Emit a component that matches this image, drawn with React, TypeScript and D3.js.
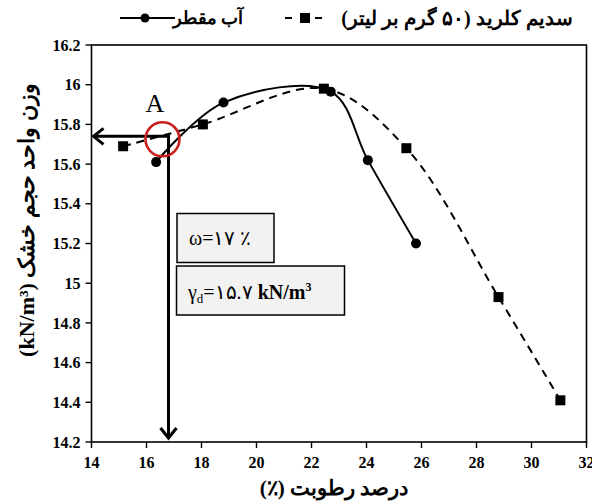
import React from "react";
import * as d3 from "d3";

const waterX = [16.35, 18.8, 22.7, 24.05, 25.8];
const waterY = [15.61, 15.91, 15.965, 15.62, 15.2];
const saltX = [15.15, 18.05, 22.45, 25.45, 28.8, 31.05];
const saltY = [15.69, 15.8, 15.98, 15.68, 14.93, 14.41];
const xTicks = [14, 16, 18, 20, 22, 24, 26, 28, 30, 32];
const yTicks = [14.2, 14.4, 14.6, 14.8, 15, 15.2, 15.4, 15.6, 15.8, 16, 16.2];
const optimum = { x: 16.8, y: 15.74 };
const waterLabel = "آب مقطر";
const saltLabel = "سدیم کلرید (۵۰ گرم بر لیتر)";
const xTitle = "درصد رطوبت (٪)";
const yTitle = "وزن واحد حجم خشک (kN/m³)";

const W = 592, H = 504;
const M = { left: 91.5, right: 586.5, top: 45, bottom: 442 };
const FONT = "Liberation Serif, serif";

export default function App() {
  const x = d3.scaleLinear().domain([14, 32]).range([M.left, M.right]);
  const y = d3.scaleLinear().domain([14.2, 16.2]).range([M.bottom, M.top]);
  const water = waterX.map((v, i) => [v, waterY[i]] as [number, number]);
  const salt = saltX.map((v, i) => [v, saltY[i]] as [number, number]);
  const line = d3
    .line<[number, number]>()
    .x((d) => x(d[0]))
    .y((d) => y(d[1]))
    .curve(d3.curveCatmullRom.alpha(0.5));

  const ox = x(optimum.x);
  const oy = y(optimum.y);

  return (
    <svg
      width={W}
      height={H}
      style={{ position: "absolute", left: 0, top: 0, background: "#fff", fontFamily: FONT }}
    >
      <rect
        x={M.left}
        y={M.top}
        width={M.right - M.left}
        height={M.bottom - M.top}
        fill="none"
        stroke="#000"
        strokeWidth={1.6}
      />
      {yTicks.map((t) => (
        <g key={"y" + t}>
          <line x1={M.left - 6} x2={M.left} y1={y(t)} y2={y(t)} stroke="#000" strokeWidth={1.4} />
          <text x={M.left - 11} y={y(t)} dy="0.35em" textAnchor="end" fontSize={16} fontWeight="bold">
            {d3.format("")(t)}
          </text>
        </g>
      ))}
      {xTicks.map((t) => (
        <g key={"x" + t}>
          <line x1={x(t)} x2={x(t)} y1={M.bottom} y2={M.bottom + 6} stroke="#000" strokeWidth={1.4} />
          <text x={x(t)} y={M.bottom + 26} textAnchor="middle" fontSize={16} fontWeight="bold">
            {t}
          </text>
        </g>
      ))}

      <path d={line(salt) || ""} fill="none" stroke="#000" strokeWidth={2} strokeDasharray="8,6" />
      <path d={line(water) || ""} fill="none" stroke="#000" strokeWidth={2} />
      {salt.map((d, i) => (
        <rect key={"s" + i} x={x(d[0]) - 5} y={y(d[1]) - 5} width={10} height={10} fill="#000" />
      ))}
      {water.map((d, i) => (
        <circle key={"w" + i} cx={x(d[0])} cy={y(d[1])} r={5} fill="#000" />
      ))}

      <line x1={ox} y1={oy} x2={M.left + 2} y2={oy} stroke="#000" strokeWidth={3} />
      <polyline
        points={`${M.left + 12},${oy - 8} ${M.left + 2},${oy} ${M.left + 12},${oy + 8}`}
        fill="none"
        stroke="#000"
        strokeWidth={3}
      />
      <line x1={ox} y1={oy - 1.5} x2={ox} y2={M.bottom - 4} stroke="#000" strokeWidth={3} />
      <polyline
        points={`${ox - 8},${M.bottom - 14} ${ox},${M.bottom - 4} ${ox + 8},${M.bottom - 14}`}
        fill="none"
        stroke="#000"
        strokeWidth={3}
      />
      <circle cx={ox - 6} cy={oy + 3} r={17} fill="none" stroke="#c8201e" strokeWidth={2.6} />
      <text x={155} y={112} textAnchor="middle" fontSize={26}>
        A
      </text>

      <rect x={177} y={213.5} width={97} height={49} fill="#f2f2f2" stroke="#000" strokeWidth={1.5} />
      <text x={189} y={245} fontSize={20} direction="ltr">
        ω=۱۷ ٪
      </text>
      <rect x={176.5} y={266} width={168} height={49} fill="#f2f2f2" stroke="#000" strokeWidth={1.5} />
      <text x={188} y={299} fontSize={20} direction="ltr">
        <tspan>γ</tspan>
        <tspan fontSize={13} dy={4}>d</tspan>
        <tspan dy={-4}>=۱۵.۷ </tspan>
        <tspan fontWeight="bold">kN/m</tspan>
        <tspan fontWeight="bold" fontSize={12} dy={-8}>3</tspan>
      </text>

      <line x1={120} x2={175} y1={18} y2={18} stroke="#000" strokeWidth={2} />
      <circle cx={145} cy={18} r={4.5} fill="#000" />
      <text x={208} y={18} dy="0.35em" textAnchor="middle" fontSize={18} fontWeight="bold" direction="rtl">
        {waterLabel}
      </text>
      <line x1={285} x2={325} y1={18} y2={18} stroke="#000" strokeWidth={2} strokeDasharray="7,8" />
      <rect x={300} y={13} width={10} height={10} fill="#000" />
      <text x={457} y={18} dy="0.35em" textAnchor="middle" fontSize={20} fontWeight="bold" direction="rtl">
        {saltLabel}
      </text>

      <text x={334} y={495} textAnchor="middle" fontSize={21} fontWeight="bold" direction="rtl">
        {xTitle}
      </text>
      <text
        transform={`translate(26,220) rotate(-90)`}
        dy="0.35em"
        textAnchor="middle"
        fontSize={22}
        fontWeight="bold"
        direction="rtl"
      >
        {yTitle}
      </text>
    </svg>
  );
}
